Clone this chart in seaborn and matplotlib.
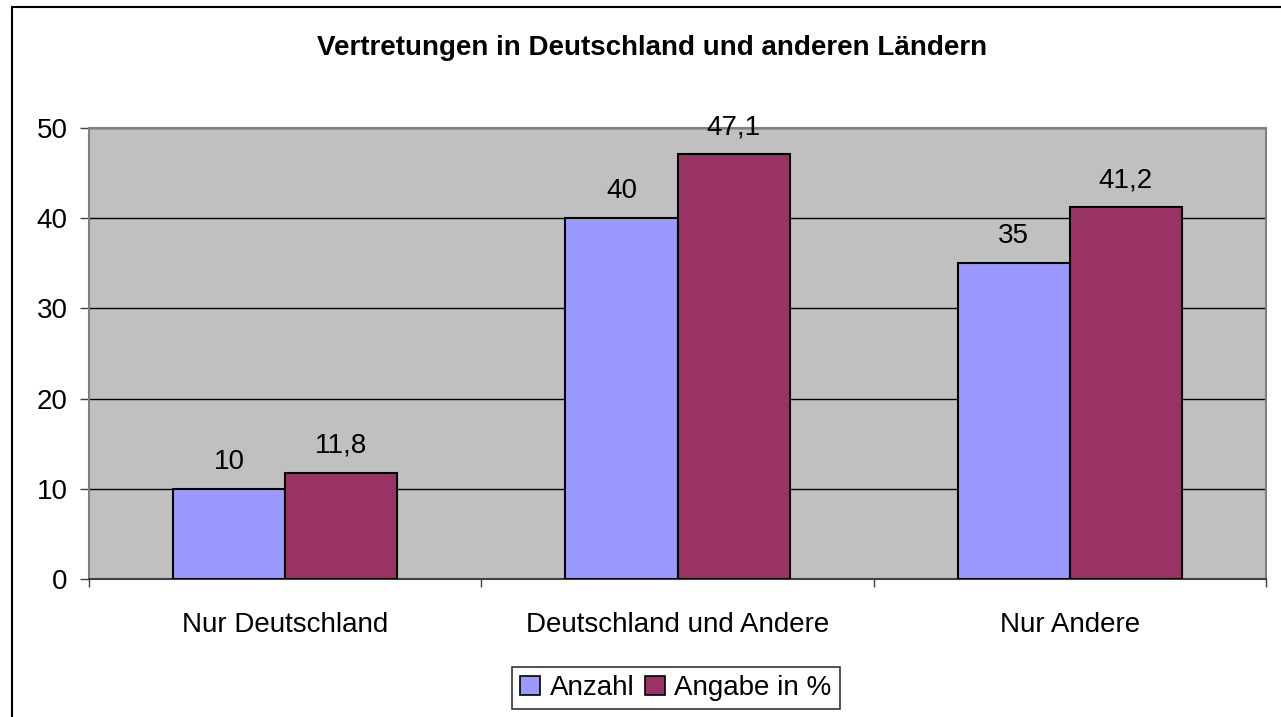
import pandas as pd
import matplotlib
matplotlib.use("Agg")
import matplotlib.pyplot as plt
import matplotlib.patches as mpatches
import seaborn as sns

# ---------------- Data ----------------
categories = ["Nur Deutschland", "Deutschland und Andere", "Nur Andere"]
series_names = ["Anzahl", "Angabe in %"]
anzahl = [10, 40, 35]
angabe_prozent = [11.8, 47.1, 41.2]
y_ticks = [0, 10, 20, 30, 40, 50]
colors = ["#9999FF", "#993366"]

df = pd.DataFrame({
    "Kategorie": categories * 2,
    "Serie": [series_names[0]] * 3 + [series_names[1]] * 3,
    "Wert": anzahl + angabe_prozent,
})

# ---------------- Settings ----------------
sns.set_theme(style="white")
plt.rcParams["font.family"] = ["Liberation Sans", "DejaVu Sans"]
plt.rcParams["text.color"] = "black"
plt.rcParams["xtick.color"] = "black"
plt.rcParams["ytick.color"] = "black"

fig = plt.figure(figsize=(12.81, 7.17), dpi=100)
ax = fig.add_axes([89 / 1281, 1 - 579 / 717, (1266 - 89) / 1281, (579 - 128) / 717])

sns.barplot(data=df, x="Kategorie", y="Wert", hue="Serie", palette=colors,
            saturation=1, width=0.571, edgecolor="black", linewidth=1.5,
            ax=ax, zorder=3)

# data labels with German decimal comma
for container in ax.containers:
    labels = [f"{v:g}".replace(".", ",") for v in container.datavalues]
    ax.bar_label(container, labels=labels, padding=10, fontsize=20, color="black")

# ---------------- Axes styling ----------------
ax.set_facecolor("#C0C0C0")
ax.set_ylim(0, 50)
ax.set_yticks(y_ticks)
ax.set_xlim(-0.5, 2.5)
ax.set_xlabel("")
ax.set_ylabel("")
ax.yaxis.grid(True, color="black", linewidth=1)
ax.set_axisbelow(True)
for side in ["top", "right", "left"]:
    ax.spines[side].set_color("#808080")
    ax.spines[side].set_linewidth(1.5)
ax.spines["bottom"].set_color("#404040")
ax.spines["bottom"].set_linewidth(1.5)

ax.tick_params(axis="y", which="major", direction="out", length=6.5, width=1,
               color="#404040", labelcolor="black", pad=9, labelsize=20, left=True)
ax.set_xticks([0, 1, 2])
ax.set_xticklabels(categories)
ax.tick_params(axis="x", which="major", length=0, pad=24, labelsize=20,
               labelcolor="black")
ax.set_xticks([-0.5, 0.5, 1.5, 2.5], minor=True)
ax.tick_params(axis="x", which="minor", direction="out", length=6, width=1,
               color="#404040", bottom=True)

# ---------------- Title ----------------
fig.text(652 / 1281, 1 - 48 / 717, "Vertretungen in Deutschland und anderen Ländern",
         ha="center", va="center", fontsize=20, fontweight="bold", color="black")

# ---------------- Legend ----------------
ax.legend_.remove()
handles = [mpatches.Patch(facecolor=c, edgecolor="black", linewidth=1.2) for c in colors]
leg = fig.legend(handles, series_names, loc="center",
                 bbox_to_anchor=(676 / 1281, 1 - 688 / 717), ncol=2, fontsize=20,
                 frameon=True, fancybox=False, edgecolor="black",
                 handlelength=0.7, handleheight=0.7, handletextpad=0.35,
                 columnspacing=0.4, borderpad=0.3, borderaxespad=0)
leg.get_frame().set_linewidth(1.2)
for t in leg.get_texts():
    t.set_color("black")

# ---------------- Outer chart border ----------------
border = mpatches.Rectangle((12 / 1281, -0.1), 1.2, 1 - 7 / 717 + 0.1,
                            transform=fig.transFigure, fill=False,
                            edgecolor="black", linewidth=1.5, clip_on=False)
fig.patches.append(border)

plt.savefig("out.png", dpi=100)
